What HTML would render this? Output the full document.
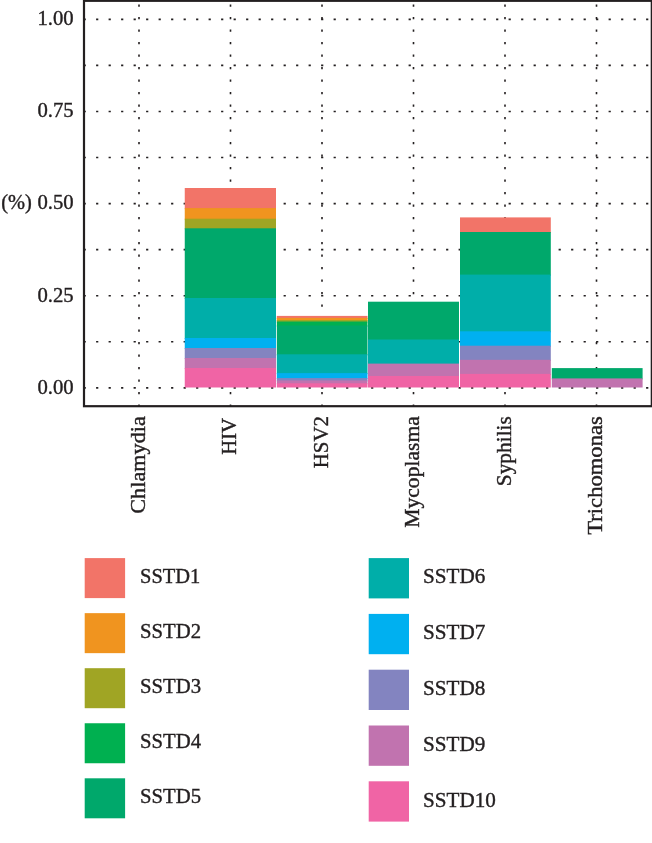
<!DOCTYPE html>
<html lang="en"><head><meta charset="utf-8"><title>SSTD chart</title>
<style>html,body{margin:0;padding:0;background:#fff}body{width:652px;height:843px;overflow:hidden}svg{display:block}text{font-family:"Liberation Serif",serif;font-size:21px;fill:#231f20;stroke:#231f20;stroke-width:.4px}</style></head><body>
<svg width="652" height="843" viewBox="0 0 652 843">
<rect width="652" height="843" fill="#fff"/>
<g stroke="#231f20" stroke-width="1.6" stroke-dasharray="2.2 10.3" fill="none">
<path d="M83.60 387.85H651.80"/>
<path d="M83.60 341.79H651.80"/>
<path d="M83.60 295.73H651.80"/>
<path d="M83.60 249.66H651.80"/>
<path d="M83.60 203.60H651.80"/>
<path d="M83.60 157.54H651.80"/>
<path d="M83.60 111.48H651.80"/>
<path d="M83.60 65.41H651.80"/>
<path d="M83.60 19.35H651.80"/>
<path d="M139.00 406.70V0.80"/>
<path d="M230.50 406.70V0.80"/>
<path d="M322.00 406.70V0.80"/>
<path d="M413.50 406.70V0.80"/>
<path d="M505.00 406.70V0.80"/>
<path d="M596.50 406.70V0.80"/>
</g>
<g>
<rect x="184.75" y="188.00" width="91.25" height="21.10" fill="#F27468"/>
<rect x="184.75" y="208.10" width="91.25" height="11.60" fill="#F0941F"/>
<rect x="184.75" y="218.70" width="91.25" height="10.60" fill="#A0A524"/>
<rect x="184.75" y="228.30" width="91.25" height="70.70" fill="#00A86B"/>
<rect x="184.75" y="298.00" width="91.25" height="41.00" fill="#00AEA9"/>
<rect x="184.75" y="338.00" width="91.25" height="11.00" fill="#00B0F0"/>
<rect x="184.75" y="348.00" width="91.25" height="11.00" fill="#8384C0"/>
<rect x="184.75" y="358.00" width="91.25" height="11.00" fill="#C173AF"/>
<rect x="184.75" y="368.00" width="91.25" height="19.50" fill="#F064A5"/>
<rect x="276.80" y="315.90" width="90.70" height="3.00" fill="#F27468"/>
<rect x="276.80" y="317.90" width="90.70" height="3.10" fill="#F0941F"/>
<rect x="276.80" y="320.00" width="90.70" height="2.50" fill="#A0A524"/>
<rect x="276.80" y="321.50" width="90.70" height="5.00" fill="#00B050"/>
<rect x="276.80" y="325.50" width="90.70" height="29.80" fill="#00A86B"/>
<rect x="276.80" y="354.30" width="90.70" height="19.80" fill="#00AEA9"/>
<rect x="276.80" y="373.10" width="90.70" height="6.00" fill="#00B0F0"/>
<rect x="276.80" y="378.10" width="90.70" height="3.30" fill="#8384C0"/>
<rect x="276.80" y="380.40" width="90.70" height="3.90" fill="#C173AF"/>
<rect x="276.80" y="383.30" width="90.70" height="4.20" fill="#F064A5"/>
<rect x="368.00" y="301.70" width="91.00" height="38.80" fill="#00A86B"/>
<rect x="368.00" y="339.50" width="91.00" height="25.10" fill="#00AEA9"/>
<rect x="368.00" y="363.60" width="91.00" height="13.40" fill="#C173AF"/>
<rect x="368.00" y="376.00" width="91.00" height="11.50" fill="#F064A5"/>
<rect x="460.00" y="217.40" width="90.80" height="15.60" fill="#F27468"/>
<rect x="460.00" y="232.00" width="90.80" height="43.60" fill="#00A86B"/>
<rect x="460.00" y="274.60" width="90.80" height="57.70" fill="#00AEA9"/>
<rect x="460.00" y="331.30" width="90.80" height="15.40" fill="#00B0F0"/>
<rect x="460.00" y="345.70" width="90.80" height="15.10" fill="#8384C0"/>
<rect x="460.00" y="359.80" width="90.80" height="15.10" fill="#C173AF"/>
<rect x="460.00" y="373.90" width="90.80" height="13.60" fill="#F064A5"/>
<rect x="551.80" y="368.10" width="90.80" height="11.30" fill="#00A86B"/>
<rect x="551.80" y="378.40" width="90.80" height="9.10" fill="#C173AF"/>
</g>
<rect x="84.00" y="0.80" width="567.80" height="405.40" fill="none" stroke="#231f20" stroke-width="2.2"/>
<text x="73.6" y="25.15" text-anchor="end" textLength="36.2" lengthAdjust="spacingAndGlyphs">1.00</text>
<text x="73.6" y="117.28" text-anchor="end" textLength="36.2" lengthAdjust="spacingAndGlyphs">0.75</text>
<text x="73.6" y="209.40" text-anchor="end" textLength="36.2" lengthAdjust="spacingAndGlyphs">0.50</text>
<text x="73.6" y="301.53" text-anchor="end" textLength="36.2" lengthAdjust="spacingAndGlyphs">0.25</text>
<text x="73.6" y="393.65" text-anchor="end" textLength="36.2" lengthAdjust="spacingAndGlyphs">0.00</text>
<text x="1.2" y="208.8" textLength="30.6" lengthAdjust="spacingAndGlyphs">(%)</text>
<text transform="translate(144.50 416.2) rotate(-90)" text-anchor="end" textLength="97.5" lengthAdjust="spacingAndGlyphs">Chlamydia</text>
<text transform="translate(236.00 418.0) rotate(-90)" text-anchor="end" textLength="36.8" lengthAdjust="spacingAndGlyphs">HIV</text>
<text transform="translate(327.50 416.2) rotate(-90)" text-anchor="end" textLength="52.0" lengthAdjust="spacingAndGlyphs">HSV2</text>
<text transform="translate(419.00 416.2) rotate(-90)" text-anchor="end" textLength="111.5" lengthAdjust="spacingAndGlyphs">Mycoplasma</text>
<text transform="translate(510.50 416.2) rotate(-90)" text-anchor="end" textLength="70.0" lengthAdjust="spacingAndGlyphs">Syphilis</text>
<text transform="translate(602.00 416.2) rotate(-90)" text-anchor="end" textLength="118.5" lengthAdjust="spacingAndGlyphs">Trichomonas</text>
<rect x="84.7" y="558.10" width="40.4" height="40" fill="#F27468"/>
<text x="140" y="583.10" textLength="60.3" lengthAdjust="spacingAndGlyphs">SSTD1</text>
<rect x="84.7" y="613.15" width="40.4" height="40" fill="#F0941F"/>
<text x="140" y="638.15" textLength="61.0" lengthAdjust="spacingAndGlyphs">SSTD2</text>
<rect x="84.7" y="668.20" width="40.4" height="40" fill="#A0A524"/>
<text x="140" y="693.20" textLength="61.0" lengthAdjust="spacingAndGlyphs">SSTD3</text>
<rect x="84.7" y="723.25" width="40.4" height="40" fill="#00B050"/>
<text x="140" y="748.25" textLength="61.0" lengthAdjust="spacingAndGlyphs">SSTD4</text>
<rect x="84.7" y="778.30" width="40.4" height="40" fill="#00A86B"/>
<text x="140" y="803.30" textLength="61.0" lengthAdjust="spacingAndGlyphs">SSTD5</text>
<rect x="368.7" y="558.10" width="40.3" height="40.3" fill="#00AEA9"/>
<text x="423" y="583.40" textLength="62.3" lengthAdjust="spacingAndGlyphs">SSTD6</text>
<rect x="368.7" y="613.90" width="40.3" height="40.3" fill="#00B0F0"/>
<text x="423" y="639.20" textLength="62.3" lengthAdjust="spacingAndGlyphs">SSTD7</text>
<rect x="368.7" y="669.70" width="40.3" height="40.3" fill="#8384C0"/>
<text x="423" y="695.00" textLength="62.3" lengthAdjust="spacingAndGlyphs">SSTD8</text>
<rect x="368.7" y="725.50" width="40.3" height="40.3" fill="#C173AF"/>
<text x="423" y="750.80" textLength="62.3" lengthAdjust="spacingAndGlyphs">SSTD9</text>
<rect x="368.7" y="781.30" width="40.3" height="40.3" fill="#F064A5"/>
<text x="423" y="806.60" textLength="72.8" lengthAdjust="spacingAndGlyphs">SSTD10</text>
</svg></body></html>
